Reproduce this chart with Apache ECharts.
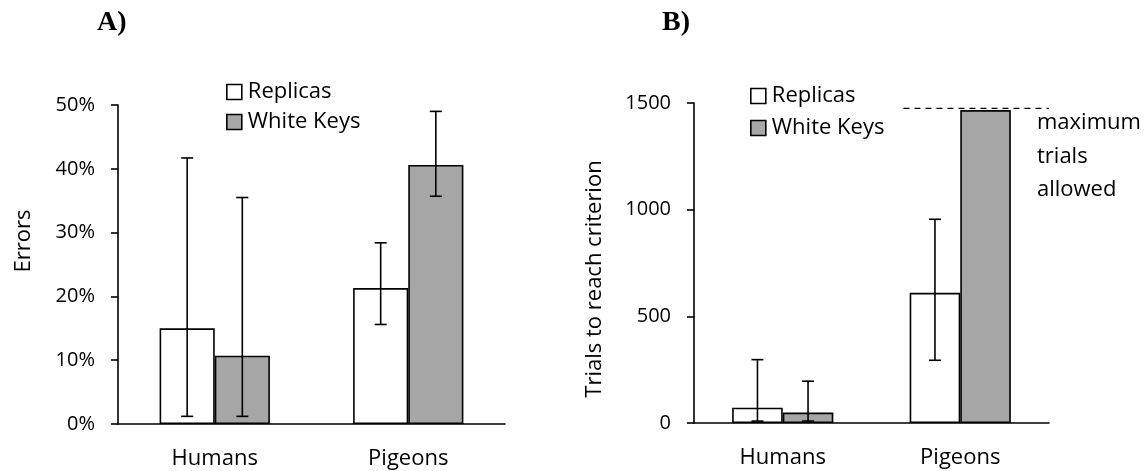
<!DOCTYPE html>
<html>
<head>
<meta charset="utf-8">
<script src="https://cdn.jsdelivr.net/npm/echarts@6/dist/echarts.min.js"></script>
<style>
  html, body { margin: 0; padding: 0; background: #fff; }
  #chart { width: 1148px; height: 471px; }
</style>
</head>
<body>
<div id="chart"></div>
<script>
const categories = ["Humans", "Pigeons"]

// panel A: errors (%)
const errorsReplicas = [15.0, 21.3]
const errorsReplicasLow = [1.2, 15.6]
const errorsReplicasHigh = [41.7, 28.4]
const errorsWhiteKeys = [10.7, 40.6]
const errorsWhiteKeysLow = [1.2, 35.7]
const errorsWhiteKeysHigh = [35.5, 49.0]
const errorsTicks = [0, 10, 20, 30, 40, 50]

// panel B: trials to reach criterion
const trialsReplicas = [72, 610]
const trialsReplicasLow = [9, 294]
const trialsReplicasHigh = [297, 955]
const trialsWhiteKeys = [49, 1467]
const trialsWhiteKeysLow = [9, null]
const trialsWhiteKeysHigh = [196, null]
const trialsTicks = [0, 500, 1000, 1500]
const maxTrials = 1475

const FONT = "'Open Sans', 'Noto Sans', sans-serif"
const GAP = 0.43

const errorData = (low, high) =>
    low.map((l, i) => (l == null ? null : [i, l, high[i]])).filter(d => d)

// side: -1 for the left bar of a pair, +1 for the right one
const errorBar = (side) => (params, api) => {
    const band = api.size([1, 0])[0]
    const barW = band * (1 - GAP) / 2
    const cx = api.coord([api.value(0), 0])[0] + side * barW / 2
    const yLow = api.coord([api.value(0), api.value(1)])[1]
    const yHigh = api.coord([api.value(0), api.value(2)])[1]
    const cap = 6
    const style = { stroke: "#000", lineWidth: 1.6 }
    return {
        type: "group",
        children: [
            { type: "line", shape: { x1: cx, y1: yLow, x2: cx, y2: yHigh }, style },
            { type: "line", shape: { x1: cx - cap, y1: yHigh, x2: cx + cap, y2: yHigh }, style },
            { type: "line", shape: { x1: cx - cap, y1: yLow, x2: cx + cap, y2: yLow }, style }
        ]
    }
}

const maxLine = (params, api) => {
    const band = api.size([1, 0])[0]
    const c = api.coord([api.value(0), api.value(1)])
    const x1 = c[0] - band * 0.32
    const x2 = params.coordSys.x + params.coordSys.width
    return {
        type: "line",
        shape: { x1: x1, y1: c[1], x2: x2, y2: c[1] },
        style: { stroke: "#000", lineWidth: 1.4, lineDash: [6, 5] },
        z2: 10
    }
}

const xAxisBase = (gridIndex) => ({
    type: "category",
    gridIndex: gridIndex,
    data: categories,
    axisLine: { lineStyle: { color: "#000", width: 1.6 } },
    axisTick: { show: false },
    axisLabel: { color: "#000", fontFamily: FONT, fontSize: 22, margin: 24 }
})

const yAxisBase = (gridIndex, ticks, fmt) => ({
    type: "value",
    gridIndex: gridIndex,
    min: ticks[0],
    max: ticks[ticks.length - 1],
    interval: ticks[1] - ticks[0],
    axisLine: { show: true, lineStyle: { color: "#000", width: 1.6 } },
    axisTick: { show: true, length: 7, lineStyle: { color: "#000", width: 1.6 } },
    splitLine: { show: false },
    axisLabel: { color: "#000", fontFamily: FONT, fontSize: 20, margin: 23, formatter: fmt }
})

const barStyle = (fill) => ({ color: fill, borderColor: "#000", borderWidth: 1.6 })

const legendBase = (left, top, gap) => ({
    left: left,
    top: top,
    orient: "vertical",
    icon: "rect",
    itemWidth: 15,
    itemHeight: 15,
    itemGap: gap,
    selectedMode: false,
    data: ["Replicas", "White Keys"],
    itemStyle: { borderColor: "#000", borderWidth: 1.6 },
    textStyle: { color: "#000", fontFamily: FONT, fontSize: 22, padding: [0, 0, 0, 1] }
})

const chart = echarts.init(document.getElementById("chart"), null, { renderer: "canvas" })

const option = {
    animation: false,
    backgroundColor: "#fff",
    grid: [
        { left: 118, top: 105, width: 387, height: 319 },
        { left: 694, top: 103, width: 355, height: 320 }
    ],
    legend: [legendBase(221, 76, 8), legendBase(745, 80, 10)],
    xAxis: [xAxisBase(0), xAxisBase(1)],
    yAxis: [
        yAxisBase(0, errorsTicks, "{value}%"),
        yAxisBase(1, trialsTicks, (v) => String(v))
    ],
    graphic: [
        { type: "text", x: 97, y: 23, style: { text: "A)", fill: "#000", font: "bold 28px 'Liberation Serif', serif", textAlign: "left", textVerticalAlign: "middle" } },
        { type: "text", x: 662, y: 23, style: { text: "B)", fill: "#000", font: "bold 28px 'Liberation Serif', serif", textAlign: "left", textVerticalAlign: "middle" } },
        { type: "text", x: 24, y: 241, rotation: Math.PI / 2, style: { text: "Errors", fill: "#000", font: "22px " + FONT, textAlign: "center", textVerticalAlign: "middle" } },
        { type: "text", x: 595, y: 279, rotation: Math.PI / 2, style: { text: "Trials to reach criterion", fill: "#000", font: "22px " + FONT, textAlign: "center", textVerticalAlign: "middle" } },
        { type: "text", x: 1037, y: 106, style: { text: "maximum\ntrials\nallowed", fill: "#000", font: "22px " + FONT, lineHeight: 33.5, textAlign: "left", textVerticalAlign: "top" } }
    ],
    series: [
        {
            name: "Replicas", type: "bar", xAxisIndex: 0, yAxisIndex: 0,
            barGap: 0, barCategoryGap: "43%",
            itemStyle: barStyle("#ffffff"), data: errorsReplicas
        },
        {
            name: "White Keys", type: "bar", xAxisIndex: 0, yAxisIndex: 0,
            barGap: 0, barCategoryGap: "43%",
            itemStyle: barStyle("#a6a6a6"), data: errorsWhiteKeys
        },
        {
            name: "Replicas", type: "bar", xAxisIndex: 1, yAxisIndex: 1,
            barGap: 0, barCategoryGap: "43%",
            itemStyle: barStyle("#ffffff"), data: trialsReplicas
        },
        {
            name: "White Keys", type: "bar", xAxisIndex: 1, yAxisIndex: 1,
            barGap: 0, barCategoryGap: "43%",
            itemStyle: barStyle("#a6a6a6"), data: trialsWhiteKeys
        },
        {
            type: "custom", xAxisIndex: 0, yAxisIndex: 0, z: 5,
            renderItem: errorBar(-1), encode: { x: 0, y: [1, 2] },
            data: errorData(errorsReplicasLow, errorsReplicasHigh)
        },
        {
            type: "custom", xAxisIndex: 0, yAxisIndex: 0, z: 5,
            renderItem: errorBar(1), encode: { x: 0, y: [1, 2] },
            data: errorData(errorsWhiteKeysLow, errorsWhiteKeysHigh)
        },
        {
            type: "custom", xAxisIndex: 1, yAxisIndex: 1, z: 5,
            renderItem: errorBar(-1), encode: { x: 0, y: [1, 2] },
            data: errorData(trialsReplicasLow, trialsReplicasHigh)
        },
        {
            type: "custom", xAxisIndex: 1, yAxisIndex: 1, z: 5,
            renderItem: errorBar(1), encode: { x: 0, y: [1, 2] },
            data: errorData(trialsWhiteKeysLow, trialsWhiteKeysHigh)
        },
        {
            // dashed line marking the maximum number of trials
            type: "custom", xAxisIndex: 1, yAxisIndex: 1, z: 6,
            renderItem: maxLine, encode: { x: 0, y: 1 },
            data: [[1, maxTrials]]
        }
    ]
}

chart.setOption(option)
</script>
</body>
</html>
